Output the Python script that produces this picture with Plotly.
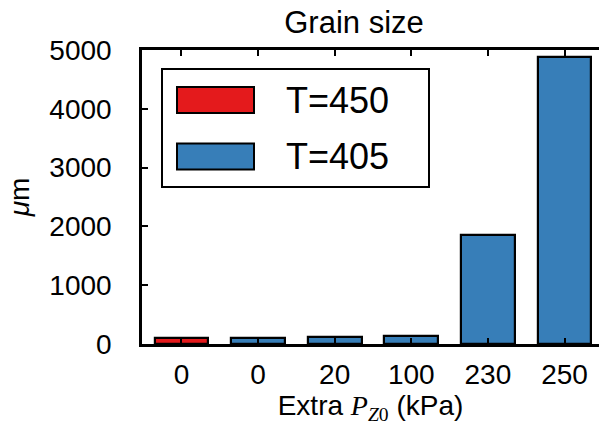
import plotly.graph_objects as go

# Grain size by extra P_Z0, two temperatures
tick_labels = ["0", "0", "20", "100", "230", "250"]
x_450 = [0]
size_450 = [110]
x_405 = [1, 2, 3, 4, 5]
size_405 = [100, 120, 130, 1860, 4880]

y_ticks = [0, 1000, 2000, 3000, 4000, 5000]

RED = "#e41a1c"
BLUE = "#377eb8"
FONT = "Liberation Sans"

fig = go.Figure()
fig.add_trace(go.Bar(x=x_450, y=size_450, name="T=450", width=0.7,
                     marker=dict(color=RED, line=dict(color="black", width=2.2)),
                     showlegend=False))
fig.add_trace(go.Bar(x=x_405, y=size_405, name="T=405", width=0.7,
                     marker=dict(color=BLUE, line=dict(color="black", width=2.2)),
                     showlegend=False))

# hand-drawn legend box with large patches
fig.add_shape(type="rect", xref="paper", yref="paper",
              x0=(162 - 142) / 457, x1=(429 - 142) / 457,
              y0=(344 - 187) / 294, y1=(344 - 69) / 294,
              line=dict(color="black", width=2), fillcolor="white", layer="above")
for i, (lab, col) in enumerate([("T=450", RED), ("T=405", BLUE)]):
    yc = 100 + i * 56.5
    fig.add_shape(type="rect", xref="paper", yref="paper",
                  x0=(177 - 142) / 457, x1=(254 - 142) / 457,
                  y0=(344 - (yc + 13)) / 294, y1=(344 - (yc - 13)) / 294,
                  line=dict(color="black", width=2), fillcolor=col, layer="above")
    fig.add_annotation(text=lab, xref="paper", yref="paper",
                       x=(284 - 142) / 457, y=(344 - yc) / 294,
                       xanchor="left", yanchor="middle", showarrow=False,
                       font=dict(family=FONT, size=36, color="black"))

fig.update_layout(
    width=599, height=427,
    margin=dict(l=142, r=0, t=50, b=83),
    paper_bgcolor="white", plot_bgcolor="white",
    font=dict(family=FONT, size=28, color="black"),
    title=dict(text="Grain size", x=354 / 599, xanchor="center",
               y=1 - 22 / 427, yanchor="middle",
               font=dict(family=FONT, size=31, color="black")),
    bargap=0,
    xaxis=dict(range=[-0.515, 5.45], tickvals=list(range(6)), ticktext=tick_labels,
               showline=True, linecolor="black", linewidth=2.5, mirror="ticks",
               ticks="inside", ticklen=6, tickwidth=1.5, tickcolor="black",
               showgrid=False, zeroline=False, ticklabelstandoff=4,
               title=dict(text="Extra <span style=\"font-family:'Liberation Serif'\"><i>P</i><sub><i>Z</i>0</sub></span> (kPa)",
                          standoff=2, font=dict(family=FONT, size=28))),
    yaxis=dict(range=[0, 5000], tickvals=y_ticks,
               showline=True, linecolor="black", linewidth=2.5,
               ticks="inside", ticklen=6, tickwidth=1.5, tickcolor="black",
               showgrid=False, zeroline=False, ticklabelstandoff=22,
               title=dict(text="<i>μ</i>m", standoff=12, font=dict(family=FONT, size=28))),
    # right-hand inward ticks without a visible spine
    yaxis2=dict(range=[0, 5000], tickvals=y_ticks, overlaying="y", side="right",
                showline=False, showticklabels=False, showgrid=False, zeroline=False,
                ticks="inside", ticklen=6, tickwidth=1.5, tickcolor="black"),
)

fig.write_html("out.html")
